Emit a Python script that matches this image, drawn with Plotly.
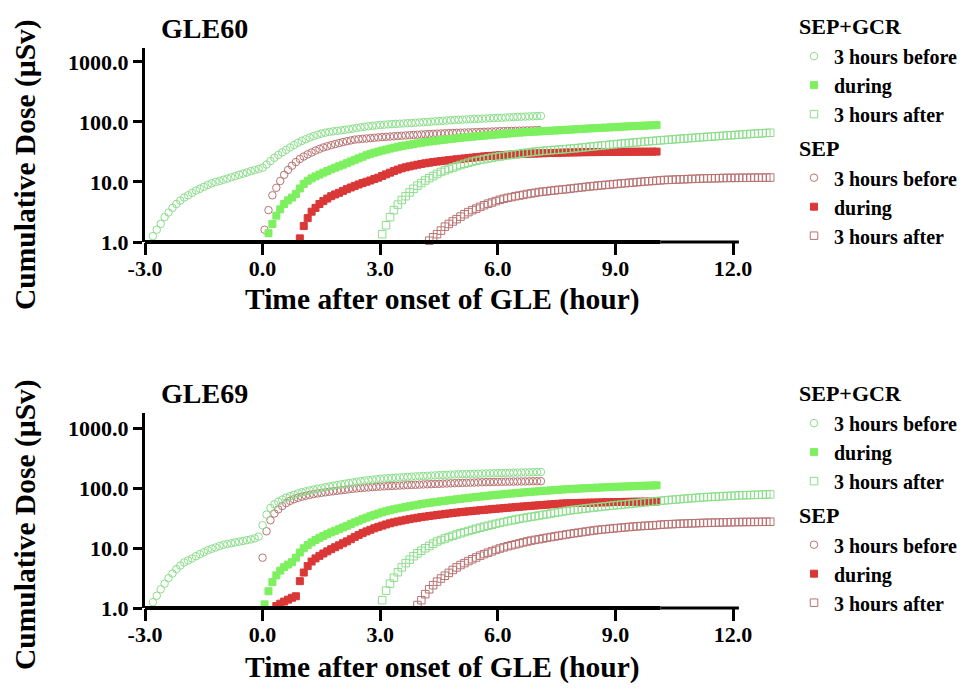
import plotly.graph_objects as go

STEP = 0.1  # sampling interval of the dose readings (hours)

# ---------------- GLE60 ----------------
gle60_gcr_before_t0 = -2.8
gle60_gcr_before = [1.25, 1.6, 2.0, 2.6, 3.1, 3.7, 4.3, 4.9, 5.5, 6.0, 6.6, 7.2, 7.7, 8.3, 8.9, 9.5, 10.0, 10.4, 10.9, 11.4,
                    12.0, 12.5, 13.2, 13.8, 14.4, 15.2, 15.8, 16.5, 17.3, 19.5, 22.3, 25.3, 28.2, 31.2, 34.3, 37.6, 41.2, 45, 48.3, 51.5,
                    55, 58.3, 61.2, 64, 66.5, 68.2, 69.8, 71.2, 72.5, 74, 75.6, 77.5, 79.5, 81.5, 83.2, 84.8, 86.3, 87.7, 89, 90.2,
                    91.3, 92.2, 93, 93.8, 94.6, 95.4, 96.2, 97.2, 98.2, 99.2, 100.3, 101.4, 102.5, 103.6, 104.7, 105.8, 106.9, 108, 108.8, 109.6,
                    110.4, 111.2, 112, 112.8, 113.6, 114.4, 115.2, 116.1, 117, 117.9, 118.8, 119.7, 120.6, 121.5, 122.4, 123.1, 123.8, 124.5, 125.2, 126]
gle60_sep_before_t0 = 0.05
gle60_sep_before = [1.6, 3.4, 6.0, 8.0, 10.4, 13.2, 15.9, 18.7, 21.5, 24.2, 26.6, 28.9, 31.0, 33.4, 35.6, 37.6, 39.4, 41.2, 42.9, 44.5,
                    46.2, 47.8, 49.3, 50.8, 51.6, 52.4, 53.1, 53.8, 54.6, 55.3, 56.0, 56.6, 57.2, 57.8, 58.4, 59.0, 59.6, 60.2, 60.8, 61.4,
                    62.0, 62.5, 63.0, 63.5, 64.0, 64.4, 64.8, 65.2, 65.6, 66.0, 66.4, 66.7, 67.0, 67.4, 67.8, 68.2, 68.6, 69.0, 69.4, 69.8,
                    70.2, 70.5, 70.8, 71.1, 71.4, 71.7, 72.0, 72.3, 72.6, 72.9, 73.2]
gle60_gcr_during_t0 = 0.15
gle60_gcr_during = [1.4, 2.0, 2.75, 3.5, 4.3, 4.95, 5.5, 6.3, 7.8, 9.3, 10.5, 11.5, 12.4, 13.3, 14.3, 15.2, 16.2, 17.3, 18.3, 19.4,
                    20.6, 22.0, 23.4, 24.8, 26.3, 27.9, 29.5, 30.8, 32.1, 33.4, 34.7, 36.0, 37.3, 38.5, 39.6, 40.7, 41.8, 42.9, 44.0, 45.2,
                    46.2, 47.2, 48.1, 49.0, 49.9, 50.8, 51.7, 52.6, 53.5, 54.4, 55.3, 56.1, 56.9, 57.7, 58.5, 59.3, 60.1, 60.9, 61.7, 62.5,
                    63.3, 64.1, 64.9, 65.7, 66.5, 67.3, 67.9, 68.5, 69.1, 69.7, 70.3, 70.9, 71.5, 72.1, 72.7, 73.3, 73.9, 74.6, 75.3, 76.0,
                    76.7, 77.4, 78.1, 78.8, 79.4, 80.0, 80.6, 81.2, 81.9, 82.6, 83.3, 84.0, 84.6, 85.2, 85.8, 86.4, 87.0, 87.6, 88.2, 88.8]
gle60_sep_during_t0 = 0.95
gle60_sep_during = [1.15, 1.85, 2.5, 3.2, 3.7, 4.3, 4.8, 5.3, 5.8, 6.2, 6.6, 7.1, 7.6, 8.1, 8.6, 9.1, 9.6, 10.1, 10.6, 11.2,
                    11.8, 12.6, 13.4, 14.3, 15.2, 16.1, 16.9, 17.6, 18.2, 18.8, 19.4, 20.0, 20.5, 21.0, 21.5, 21.9, 22.3, 22.7, 23.1, 23.5,
                    23.9, 24.3, 24.7, 25.1, 25.5, 25.9, 26.3, 26.7, 27.1, 27.3, 27.6, 27.9, 28.1, 28.4, 28.6, 28.9, 29.1, 29.3, 29.5, 29.7,
                    29.8, 30.0, 30.1, 30.3, 30.4, 30.5, 30.6, 30.8, 30.9, 31.0, 31.1, 31.2, 31.3, 31.4, 31.4, 31.5, 31.5, 31.6, 31.6, 31.7,
                    31.7, 31.8, 31.8, 31.8, 31.9, 31.9, 31.9, 32.0, 32.0, 32.0, 32.1, 32.1]
gle60_gcr_after_t0 = 3.05
gle60_gcr_after = [1.35, 1.9, 2.6, 3.4, 4.2, 5.0, 5.8, 6.7, 7.7, 8.7, 9.6, 10.6, 11.6, 12.6, 13.6, 14.7, 15.6, 16.5, 17.4, 18.3,
                   19.2, 20.1, 21.0, 21.9, 22.6, 23.3, 24.0, 24.7, 25.4, 26.0, 26.6, 27.2, 27.8, 28.4, 29.0, 29.6, 30.2, 30.8, 31.4, 32.0,
                   32.5, 33.0, 33.4, 33.8, 34.2, 34.6, 35.0, 35.4, 35.9, 36.4, 36.9, 37.5, 38.1, 38.7, 39.3, 39.9, 40.5, 41.1, 41.7, 42.3,
                   42.9, 43.5, 44.1, 44.7, 45.3, 45.9, 46.5, 47.1, 47.7, 48.3, 48.9, 49.5, 50.0, 50.6, 51.2, 51.8, 52.4, 53.0, 53.6, 54.2,
                   54.8, 55.4, 56.0, 56.6, 57.2, 57.8, 58.4, 59.0, 59.6, 60.2, 60.8, 61.4, 62.0, 62.6, 63.2, 63.8, 64.4, 65.0, 65.6, 66.2]
gle60_sep_after_t0 = 4.25
gle60_sep_after = [1.05, 1.2, 1.35, 1.55, 1.8, 2.0, 2.2, 2.4, 2.65, 2.9, 3.15, 3.4, 3.6, 3.85, 4.1, 4.35, 4.55, 4.8, 5.05, 5.25,
                   5.45, 5.6, 5.8, 5.95, 6.1, 6.3, 6.45, 6.6, 6.8, 6.9, 7.0, 7.15, 7.25, 7.4, 7.5, 7.6, 7.75, 7.9, 8.0, 8.15,
                   8.3, 8.45, 8.55, 8.7, 8.8, 8.95, 9.05, 9.2, 9.3, 9.45, 9.55, 9.7, 9.8, 9.95, 10.05, 10.2, 10.3, 10.4, 10.55, 10.65,
                   10.8, 10.85, 10.9, 11.0, 11.05, 11.1, 11.2, 11.25, 11.3, 11.4, 11.45, 11.5, 11.5, 11.55, 11.6, 11.65, 11.7, 11.7, 11.7, 11.75,
                   11.75, 11.75, 11.8, 11.8, 11.8, 11.8, 11.85, 11.85]

# ---------------- GLE69 ----------------
gle69_gcr_before_t0 = -2.8
gle69_gcr_before = [1.25, 1.6, 2.05, 2.55, 3.15, 3.75, 4.45, 5.1, 5.75, 6.2, 6.7, 7.3, 7.9, 8.5, 9.15, 9.7, 10.2, 10.8, 11.3, 11.65,
                    12.0, 12.4, 12.75, 13.1, 13.5, 13.9, 14.5, 15.5, 24, 36, 46.5, 53.5, 59, 64, 69, 73, 77, 81, 85, 88,
                    91, 94, 97, 100, 103, 106, 109, 112, 115, 118, 121, 124, 127, 130, 132.5, 135, 137.5, 140, 142.5, 144,
                    145.5, 147, 148.5, 150, 151.5, 153, 154.5, 156, 157.5, 158.6, 159.8, 161, 162.2, 163.4, 164.6, 165.8, 167, 168.2, 169.2, 170,
                    170.8, 171.6, 172.4, 173.2, 174, 174.8, 175.6, 176.3, 177, 177.7, 178.4, 179.1, 179.8, 180.5, 181.2, 181.9, 182.6, 183.3, 184, 184.6]
gle69_sep_before_t0 = 0.0
gle69_sep_before = [6.9, 19, 29, 37.5, 44, 50, 56, 61, 65, 68.5, 71.7, 74.2, 76.6, 79, 81.2, 83, 84.8, 86.5, 88.2, 89.8,
                    91.5, 93.2, 95, 96.8, 98.4, 99.8, 101, 102.2, 103.4, 104.5, 105.5, 106.5, 107.5, 108.3, 109.1, 109.9, 110.7, 111.5, 112.3, 113.1,
                    113.9, 114.7, 115.4, 116.1, 116.8, 117.5, 118.2, 118.9, 119.6, 120.3, 121, 121.6, 122.2, 122.8, 123.4, 124, 124.6, 125.2, 125.8, 126.2,
                    126.6, 127, 127.3, 127.6, 127.9, 128.2, 128.5, 128.8, 129.1, 129.4, 129.7, 130]
gle69_gcr_during_t0 = 0.05
gle69_gcr_during = [1.15, 1.9, 2.7, 3.5, 4.2, 4.8, 5.3, 5.8, 6.9, 8.4, 9.9, 11.2, 12.4, 13.6, 14.8, 15.9, 17.0, 18.2, 19.4, 20.6,
                    22.0, 23.4, 25.0, 26.8, 28.5, 30.3, 32.1, 33.9, 35.7, 37.5, 39.3, 41.0, 42.6, 44.1, 45.6, 47.0, 48.4, 49.8, 51.2, 52.6,
                    54.0, 55.2, 56.4, 57.6, 58.8, 60.0, 61.2, 62.4, 63.6, 64.8, 66.0, 67.2, 68.4, 69.6, 70.8, 72.0, 73.2, 74.4, 75.5, 76.6,
                    77.7, 78.8, 79.9, 81.0, 82.1, 83.2, 84.3, 85.3, 86.3, 87.3, 88.3, 89.3, 90.3, 91.3, 92.3, 93.3, 94.3, 95.2, 96.0, 96.8,
                    97.6, 98.4, 99.2, 100.0, 100.7, 101.4, 102.1, 102.8, 103.5, 104.2, 104.8, 105.4, 106.0, 106.6, 107.2, 107.8, 108.4, 109.0, 109.6, 110.2, 110.8]
gle69_sep_during_t0 = 0.35
gle69_sep_during = [1.08, 1.18, 1.28, 1.38, 1.48, 1.57, 2.8, 3.9, 5.0, 5.95, 6.7, 7.4, 8.1, 8.8, 9.55, 10.3, 11.1, 12.0, 12.9, 14.0,
                    15.3, 16.5, 17.7, 18.9, 20.1, 21.3, 22.5, 23.6, 24.7, 25.8, 26.8, 27.7, 28.6, 29.5, 30.3, 31.1, 31.9, 32.7, 33.4, 34.1,
                    34.8, 35.5, 36.2, 36.9, 37.6, 38.3, 39.0, 39.6, 40.2, 40.8, 41.4, 42.0, 42.6, 43.2, 43.8, 44.4, 45.0, 45.6, 46.2, 46.8,
                    47.4, 48.0, 48.6, 49.2, 49.8, 50.4, 51.0, 51.6, 52.2, 52.8, 53.4, 54.0, 54.6, 55.1, 55.6, 55.9, 56.2, 56.4, 56.6, 56.8,
                    57.0, 57.2, 57.4, 57.6, 57.8, 58.0, 58.2, 58.4, 58.5, 58.7, 58.8, 59.0, 59.1, 59.2, 59.3, 59.4, 59.5, 59.6]
gle69_gcr_after_t0 = 3.05
gle69_gcr_after = [1.35, 1.95, 2.55, 3.2, 3.95, 4.75, 5.6, 6.4, 7.3, 8.15, 9.0, 9.9, 10.8, 11.8, 12.8, 13.6, 14.4, 15.2, 16.0, 16.8,
                   17.6, 18.4, 19.2, 20.1, 21.0, 21.8, 22.7, 23.5, 24.4, 25.3, 26.2, 27.1, 28.0, 28.9, 29.8, 30.7, 31.5, 32.3, 33.1, 33.9,
                   34.8, 35.7, 36.6, 37.5, 38.5, 39.5, 40.5, 41.5, 42.4, 43.2, 44.0, 44.8, 45.6, 46.4, 47.2, 48.0, 48.8, 49.6, 50.4, 51.2,
                   52.0, 52.8, 53.6, 54.4, 55.2, 56.0, 56.8, 57.6, 58.5, 59.4, 60.3, 61.2, 62.1, 62.9, 63.7, 64.5, 65.3, 66.1, 66.9, 67.7,
                   68.5, 69.3, 70.0, 70.6, 71.2, 71.8, 72.4, 73.0, 73.6, 74.1, 74.6, 75.1, 75.6, 76.0, 76.4, 76.8, 77.2, 77.6, 78.0, 78.3]
gle69_sep_after_t0 = 3.95
gle69_sep_after = [1.12, 1.35, 1.7, 2.05, 2.4, 2.75, 3.1, 3.45, 3.85, 4.3, 4.75, 5.2, 5.6, 6.05, 6.5, 6.95, 7.45, 7.9, 8.35, 8.8,
                   9.3, 9.8, 10.25, 10.7, 11.1, 11.5, 11.95, 12.4, 12.85, 13.3, 13.65, 14.0, 14.4, 14.8, 15.2, 15.6, 16.0, 16.4, 16.8, 17.2,
                   17.6, 18.0, 18.4, 18.8, 19.2, 19.6, 20.0, 20.3, 20.6, 20.9, 21.2, 21.5, 21.8, 22.1, 22.4, 22.7, 23.0, 23.2, 23.4, 23.6,
                   23.8, 24.1, 24.4, 24.7, 24.9, 25.0, 25.2, 25.4, 25.5, 25.7, 25.8, 25.9, 26.1, 26.2, 26.3, 26.4, 26.5, 26.6, 26.7, 26.8,
                   26.9, 27.0, 27.05, 27.1, 27.15, 27.2, 27.25, 27.3, 27.35, 27.4, 27.45]

x_tick_vals = [-3, 0, 3, 6, 9, 12]
x_tick_text = ["-3.0", "0.0", "3.0", "6.0", "9.0", "12.0"]
y_tick_vals = [1, 10, 100, 1000]
y_tick_text = ["1.0", "10.0", "100.0", "1000.0"]
panel_titles = ["GLE60", "GLE69"]
series_names = ["3 hours before", "during", "3 hours after"]
group_titles = ["SEP+GCR", "SEP"]

FONT = "Liberation Serif"
C_GCR_OPEN = "rgb(140,222,140)"
C_GCR_FILL = "rgb(125,240,95)"
C_SEP_OPEN = "rgb(185,115,115)"
C_SEP_FILL = "rgb(218,55,55)"


def times(t0, vals):
    return [round(t0 + STEP * i, 3) for i in range(len(vals))]


panels = [
    dict(xa="x", ya="y", legend="legend",
         data=[
             ("sep", 0, gle60_sep_before_t0, gle60_sep_before),
             ("gcr", 0, gle60_gcr_before_t0, gle60_gcr_before),
             ("sep", 1, gle60_sep_during_t0, gle60_sep_during),
             ("gcr", 1, gle60_gcr_during_t0, gle60_gcr_during),
             ("sep", 2, gle60_sep_after_t0, gle60_sep_after),
             ("gcr", 2, gle60_gcr_after_t0, gle60_gcr_after),
         ]),
    dict(xa="x2", ya="y2", legend="legend2",
         data=[
             ("sep", 0, gle69_sep_before_t0, gle69_sep_before),
             ("gcr", 0, gle69_gcr_before_t0, gle69_gcr_before),
             ("sep", 1, gle69_sep_during_t0, gle69_sep_during),
             ("gcr", 1, gle69_gcr_during_t0, gle69_gcr_during),
             ("sep", 2, gle69_sep_after_t0, gle69_sep_after),
             ("gcr", 2, gle69_gcr_after_t0, gle69_gcr_after),
         ]),
]

symbols = ["circle-open", "square", "square-open"]

fig = go.Figure()
for p in panels:
    for grp, k, t0, vals in p["data"]:
        if grp == "gcr":
            col = [C_GCR_OPEN, C_GCR_FILL, C_GCR_OPEN][k]
            rank = 1 + k
            gtitle = group_titles[0]
        else:
            col = [C_SEP_OPEN, C_SEP_FILL, C_SEP_OPEN][k]
            rank = 4 + k
            gtitle = group_titles[1]
        marker = dict(symbol=symbols[k], color=col, size=7.5 if k != 1 else 7,
                      line=dict(width=1, color=col))
        fig.add_trace(go.Scatter(
            x=times(t0, vals), y=vals, mode="markers", marker=marker,
            name=series_names[k], legendgroup=grp + p["legend"],
            legendgrouptitle=dict(text=gtitle, font=dict(family=FONT, size=22, weight="bold", color="black")),
            legendrank=rank, legend=p["legend"], cliponaxis=False,
            xaxis=p["xa"], yaxis=p["ya"], showlegend=True,
        ))

W, H = 974, 692
PAGE_OFF = 8  # the page body margin shifts the figure by this many pixels
X_MIN, X_MAX, X_LINE_END, X_THICK_END = -3, 13.1, 12.15, 10.15
PX_PER_HOUR = 39.2


def px(x):
    return (x - PAGE_OFF) / W


def py(y):
    return (H - (y - PAGE_OFF)) / H


x_dom = [px(145), px(145 + (X_MAX - X_MIN) * PX_PER_HOUR)]
ax_common = dict(showgrid=False, zeroline=False,
                 ticks="outside", tickwidth=3, tickcolor="black", automargin=False,
                 tickfont=dict(family=FONT, size=22, weight="bold", color="black"))

fig.update_layout(
    template="none",
    width=W, height=H, margin=dict(l=0, r=0, t=0, b=0, autoexpand=False),
    paper_bgcolor="white", plot_bgcolor="white",
    font=dict(family=FONT, weight="bold", color="black"),
    xaxis=dict(domain=x_dom, anchor="y", range=[X_MIN, X_MAX], tickvals=x_tick_vals, ticktext=x_tick_text,
               ticklen=12, ticklabelstandoff=-5, showline=False, **ax_common),
    yaxis=dict(domain=[py(242), py(48)], anchor="x", type="log", range=[0, 3.233],
               tickvals=y_tick_vals, ticktext=y_tick_text, ticklen=9,
               showline=True, linewidth=3, linecolor="black", **ax_common),
    xaxis2=dict(domain=x_dom, anchor="y2", range=[X_MIN, X_MAX], tickvals=x_tick_vals, ticktext=x_tick_text,
                ticklen=12, ticklabelstandoff=-5, showline=False, **ax_common),
    yaxis2=dict(domain=[py(608), py(413)], anchor="x2", type="log", range=[0, 3.25],
                tickvals=y_tick_vals, ticktext=y_tick_text, ticklen=9,
                showline=True, linewidth=3, linecolor="black", **ax_common),
    legend=dict(x=px(794), y=py(5), xanchor="left", yanchor="top", traceorder="grouped",
                tracegroupgap=3, font=dict(family=FONT, size=20, weight="bold", color="black"),
                bgcolor="rgba(0,0,0,0)", borderwidth=0, itemwidth=30),
    legend2=dict(x=px(794), y=py(372), xanchor="left", yanchor="top", traceorder="grouped",
                 tracegroupgap=3, font=dict(family=FONT, size=20, weight="bold", color="black"),
                 bgcolor="rgba(0,0,0,0)", borderwidth=0, itemwidth=30),
)

# x-axis baselines (they stop at 12.15 h while the data continue to 13 h)
shapes = []
for xr, yr in [("x", "y domain"), ("x2", "y2 domain")]:
    shapes.append(dict(type="line", xref=xr, yref=yr, x0=X_MIN - 0.02, x1=X_THICK_END, y0=0, y1=0,
                       line=dict(color="black", width=4), layer="above"))
    shapes.append(dict(type="line", xref=xr, yref=yr, x0=X_THICK_END, x1=X_LINE_END, y0=0, y1=0,
                       line=dict(color="black", width=3), layer="above"))
fig.update_layout(shapes=shapes)

annos = []
for title, ty, ycen, xcen in [(panel_titles[0], 28, 165, 300), (panel_titles[1], 393, 525, 667)]:
    annos.append(dict(text=title, x=px(159), y=py(ty), xref="paper", yref="paper",
                      xanchor="left", yanchor="middle", showarrow=False,
                      font=dict(family=FONT, size=28, weight="bold", color="black")))
    annos.append(dict(text="Cumulative Dose (µSv)", x=px(25), y=py(ycen), xref="paper", yref="paper",
                      xanchor="center", yanchor="middle", textangle=-90, showarrow=False,
                      font=dict(family=FONT, size=29.5, weight="bold", color="black")))
    annos.append(dict(text="Time after onset of GLE (hour)", x=px(442), y=py(xcen), xref="paper", yref="paper",
                      xanchor="center", yanchor="middle", showarrow=False,
                      font=dict(family=FONT, size=29.5, weight="bold", color="black")))
fig.update_layout(annotations=annos)

fig.write_html("out.html")
